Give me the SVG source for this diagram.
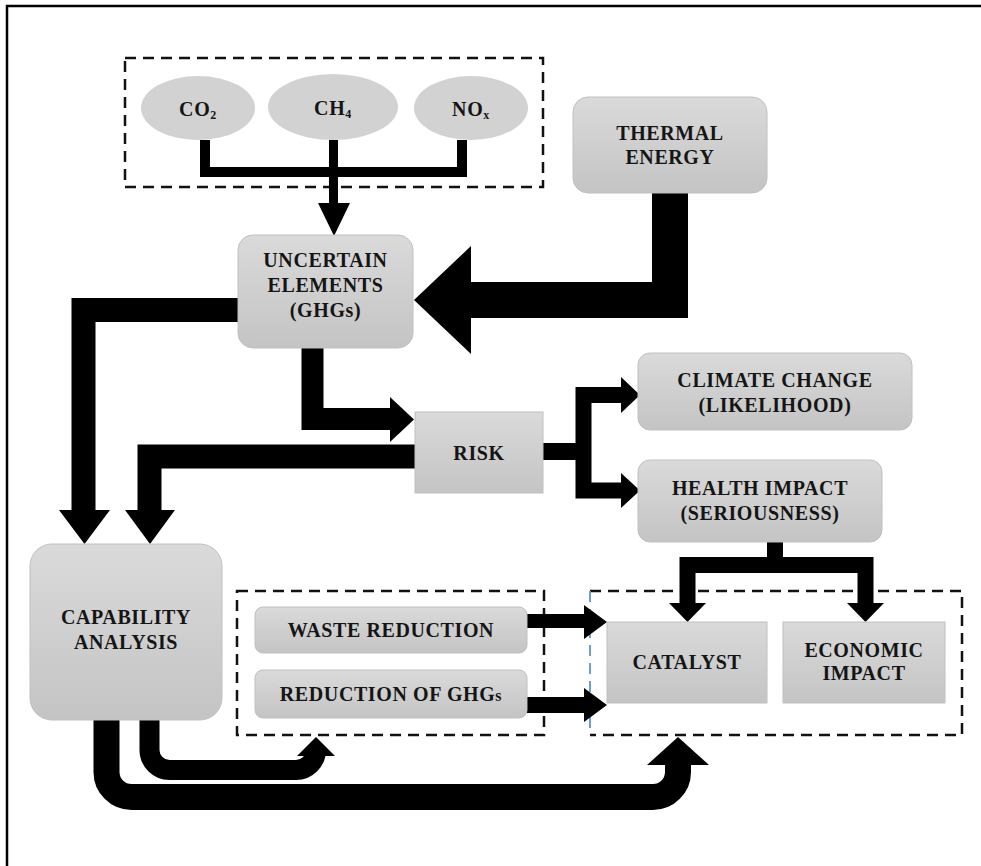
<svg xmlns="http://www.w3.org/2000/svg" width="981" height="866" viewBox="0 0 981 866">
<defs>
<linearGradient id="g" x1="0" y1="0" x2="0" y2="1">
<stop offset="0" stop-color="#dadada"/>
<stop offset="1" stop-color="#c4c4c4"/>
</linearGradient>
<style>
.box{fill:url(#g);stroke:#c0c0c0;stroke-width:1}
.t{font-family:"Liberation Serif","Times New Roman",serif;font-weight:bold;font-size:20px;fill:#151515;text-anchor:middle;letter-spacing:0.6px}
.dash{fill:none;stroke:#111;stroke-width:2.5;stroke-dasharray:11 7}
.bar{fill:none;stroke:#000;stroke-linejoin:miter}
.ah{fill:#000}
</style>
</defs>
<rect width="981" height="866" fill="#fff"/>
<path d="M7 866 V6 H981" fill="none" stroke="#000" stroke-width="2.5"/>

<g id="groups">
<rect class="dash" x="125" y="58" width="418" height="129"/>
<rect class="dash" x="237" y="591" width="307" height="144"/>
<path class="dash" d="M590 591 H962 V735 H590"/>
<path d="M590 591 V735" fill="none" stroke="#6a9fd4" stroke-width="2" stroke-dasharray="11 7"/>
</g>

<g id="connectors">
<path class="bar" stroke-width="10" d="M205 140 V172 H462 V140"/>
<path class="bar" stroke-width="9" d="M333.5 140 V204"/>
<polygon class="ah" points="318,203 350,203 334,236"/>
<path class="bar" stroke-width="36" d="M670 193 V300 H470"/>
<polygon class="ah" points="471,246 471,354 414,300"/>
<path class="bar" stroke-width="24" d="M238 310 H83.5 V511"/>
<polygon class="ah" points="59,510 110,510 84.5,544"/>
<path class="bar" stroke-width="22" d="M312.5 347 V419 H391"/>
<polygon class="ah" points="390,397 390,442 414,419.5"/>
<path class="bar" stroke-width="24" d="M415 456.5 H149.5 V511"/>
<polygon class="ah" points="125,510 175,510 150,544"/>
<path class="bar" stroke-width="17" d="M543 451.5 H584"/>
<path class="bar" stroke-width="16" d="M623 395 H583.5 V490.5 H623"/>
<polygon class="ah" points="621,377 621,413 640,395"/>
<polygon class="ah" points="621,473 621,508 640,490.5"/>
<path class="bar" stroke-width="16" d="M775 542 V566"/>
<path class="bar" stroke-width="16" d="M687.5 604 V565 H865.5 V604"/>
<polygon class="ah" points="669,603 706,603 687.5,622"/>
<polygon class="ah" points="847,603 884,603 865.5,622"/>
<path class="bar" stroke-width="14" d="M527 621 H585"/>
<polygon class="ah" points="584,605 584,639 607,622"/>
<path class="bar" stroke-width="16" d="M527 705 H585"/>
<polygon class="ah" points="584,688 584,722 607,705"/>
<path class="bar" stroke-width="20" d="M149.5 720 V750 A20 20 0 0 0 169.5 770 H296 A20 20 0 0 0 316 750 V755"/>
<polygon class="ah" points="297,756 335,756 316,737"/>
<path class="bar" stroke-width="26" d="M106.5 720 V772 A25 25 0 0 0 131.5 797 H653 A25 25 0 0 0 678 772 V764"/>
<polygon class="ah" points="647,765 709,765 678,737"/>
</g>

<g id="co2">
<ellipse cx="198" cy="108" rx="57" ry="32" fill="#d2d2d2"/>
<text class="t" x="198" y="116" font-size="19">CO<tspan font-size="12" dy="3">2</tspan></text>
</g>
<g id="ch4">
<ellipse cx="333" cy="107" rx="65" ry="33" fill="#d2d2d2"/>
<text class="t" x="333" y="115">CH<tspan font-size="12" dy="3">4</tspan></text>
</g>
<g id="nox">
<ellipse cx="471" cy="108" rx="57" ry="32" fill="#d2d2d2"/>
<text class="t" x="471" y="116">NO<tspan font-size="12" dy="3">x</tspan></text>
</g>
<g id="thermal">
<rect class="box" x="573" y="97" width="194" height="96" rx="15"/>
<text class="t" x="670" y="140">THERMAL</text>
<text class="t" x="670" y="164">ENERGY</text>
</g>
<g id="uncertain">
<rect class="box" x="238" y="235" width="175" height="113" rx="15"/>
<text class="t" x="325.5" y="267">UNCERTAIN</text>
<text class="t" x="325.5" y="292">ELEMENTS</text>
<text class="t" x="325.5" y="317">(GHGs)</text>
</g>
<g id="risk">
<rect class="box" x="415" y="412" width="128" height="81"/>
<text class="t" x="479" y="460">RISK</text>
</g>
<g id="climate">
<rect class="box" x="638" y="353" width="274" height="77" rx="12"/>
<text class="t" x="775" y="387">CLIMATE CHANGE</text>
<text class="t" x="775" y="412">(LIKELIHOOD)</text>
</g>
<g id="health">
<rect class="box" x="638" y="460" width="244" height="82" rx="12"/>
<text class="t" x="760" y="495">HEALTH IMPACT</text>
<text class="t" x="760" y="520">(SERIOUSNESS)</text>
</g>
<g id="capability">
<rect class="box" x="30" y="544" width="192" height="176" rx="22"/>
<text class="t" x="126" y="624">CAPABILITY</text>
<text class="t" x="126" y="649">ANALYSIS</text>
</g>
<g id="waste">
<rect class="box" x="255" y="607" width="272" height="46" rx="8"/>
<text class="t" x="391" y="637">WASTE REDUCTION</text>
</g>
<g id="reduction">
<rect class="box" x="255" y="670" width="272" height="48" rx="8"/>
<text class="t" x="391" y="701">REDUCTION OF GHG<tspan font-size="16">s</tspan></text>
</g>
<g id="catalyst">
<rect class="box" x="607" y="622" width="160" height="81"/>
<text class="t" x="687" y="669">CATALYST</text>
</g>
<g id="economic">
<rect class="box" x="783" y="622" width="162" height="81"/>
<text class="t" x="864" y="657">ECONOMIC</text>
<text class="t" x="864" y="680">IMPACT</text>
</g>
</svg>
